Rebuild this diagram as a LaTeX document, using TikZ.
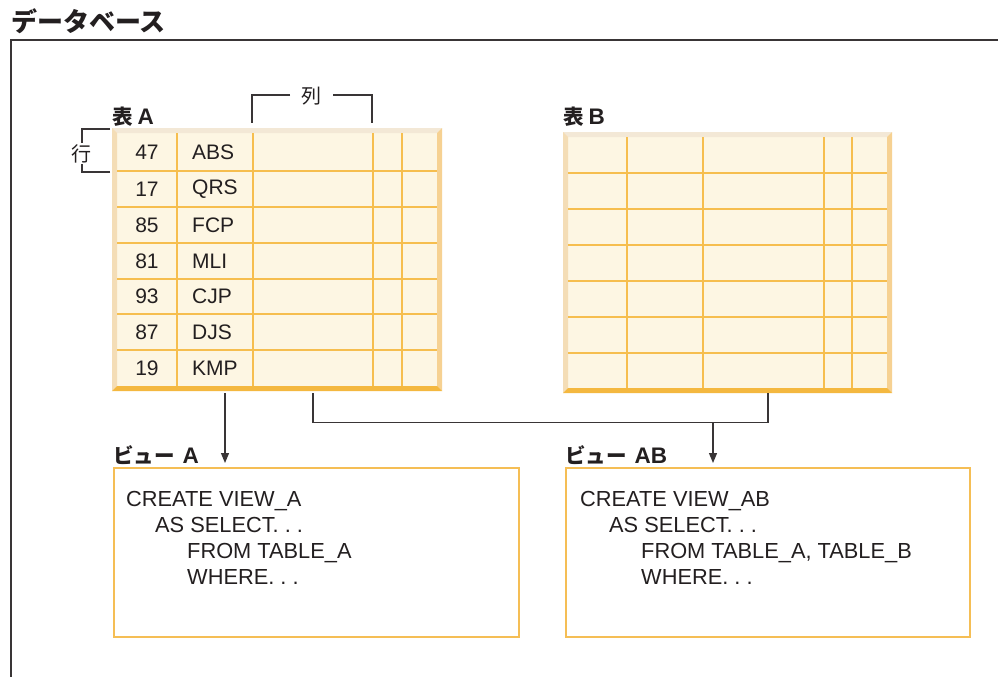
\documentclass[tikz,border=0pt]{standalone}
\usepackage{fontspec}
\setmainfont{Liberation Sans}
\newfontfamily\jp{Noto Sans CJK JP}
\usetikzlibrary{arrows.meta}
\definecolor{ink}{HTML}{231F20}
\definecolor{cream}{HTML}{FDF6E3}
\definecolor{grid}{HTML}{F6BE4F}
\definecolor{bvtop}{HTML}{F3E8D6}
\definecolor{bvleft}{HTML}{F4DDB6}
\definecolor{bvright}{HTML}{F6D192}
\definecolor{bvbot}{HTML}{F4B840}
\definecolor{vborder}{HTML}{F5BE55}
\tikzset{
  conn/.style={draw=ink!90, line width=1.2pt},
  arr/.style={conn, -{Triangle[width=8pt,length=10pt]}},
  cell/.style={font=\fontsize{21}{25}\selectfont, text=ink, inner sep=0pt},
  code/.style={font=\fontsize{21.8}{26}\selectfont, text=ink, inner sep=0pt, anchor=base west},
  lbl/.style={font=\bfseries\fontsize{22.5}{24}\selectfont, text=ink, inner sep=0pt, anchor=base west},
  tbl/.style={inner sep=0pt, draw=none},
  vbox/.style={draw=vborder, line width=1.5pt, inner sep=0pt},
  gl/.style={draw=grid, line width=1.6pt},
  brk/.style={draw=ink!90, line width=1.2pt}
}
% bevelled table: #1 x0, #2 y0, #3 x1, #4 y1
\newcommand{\bevtable}[4]{%
  \fill[cream] (#1,#2) rectangle (#3,#4);
  \fill[bvtop] (#1,#2) -- (#3,#2) -- (#3-5,#2+5) -- (#1+5,#2+5) -- cycle;
  \fill[bvleft] (#1,#2) -- (#1+5,#2+5) -- (#1+5,#4-5) -- (#1,#4) -- cycle;
  \fill[bvright] (#3,#2) -- (#3,#4) -- (#3-5,#4-5) -- (#3-5,#2+5) -- cycle;
  \fill[bvbot] (#1,#4) -- (#3,#4) -- (#3-5,#4-5) -- (#1+5,#4-5) -- cycle;
}
\newcommand{\jpb}[1]{{\jp\bfseries\fontsize{20.5}{24}\selectfont #1}}
\begin{document}
\begin{tikzpicture}[x=1pt,y=-1pt]
\useasboundingbox (0,0) rectangle (998,677);
\fill[white] (0,0) rectangle (998,677);

% title and frame
\node[anchor=base west, inner sep=0pt, text=ink, font=\jp\bfseries\fontsize{26}{30}\selectfont] (title) at (11,32) {データベース};
\draw[line width=1.2pt, draw=ink!90] (998,40) -- (11,40) -- (11,677);

% ---------- Table A ----------
\bevtable{112}{128}{442}{391}
\node[tbl, minimum width=330pt, minimum height=263pt, anchor=north west] (tA) at (112,128) {};
\foreach \x in {177,253,373,402} \draw[gl] (\x,133) -- (\x,386);
\foreach \y in {171,207,243,279,314,350} \draw[gl] (117,\y) -- (437,\y);
\foreach \n/\t/\y in {47/ABS/152.5, 17/QRS/189, 85/FCP/225, 81/MLI/261, 93/CJP/296.5, 87/DJS/332, 19/KMP/368}{
  \node[cell] (n\n) at (147,\y) {\n};
  \node[cell, anchor=west] (t\n) at (192,\y) {\t};
}
\node[lbl] (lA) at (112,124) {\jpb{表}\hspace{5pt}A};

% column bracket
\draw[brk] (290,95) -- (252,95) -- (252,123);
\draw[brk] (333,95) -- (372,95) -- (372,123);
\node[font=\jp\fontsize{20}{24}\selectfont, text=ink, inner sep=0pt] (col) at (311,96) {列};
% row bracket
\draw[brk] (110,129) -- (82,129) -- (82,143);
\draw[brk] (110,172) -- (82,172) -- (82,164);
\node[font=\jp\fontsize{20}{24}\selectfont, text=ink, inner sep=0pt] (row) at (81,154) {行};

% ---------- Table B ----------
\bevtable{563}{132}{892}{393}
\node[tbl, minimum width=329pt, minimum height=261pt, anchor=north west] (tB) at (563,132) {};
\foreach \x in {627,703,824,852} \draw[gl] (\x,137) -- (\x,388);
\foreach \y in {173,209,245,281,317,353} \draw[gl] (568,\y) -- (887,\y);
\node[lbl] (lB) at (563,124) {\jpb{表}\hspace{5pt}B};

% ---------- Views ----------
\node[vbox, minimum width=405pt, minimum height=169pt, anchor=north west] (vA) at (113,467) {};
\node[lbl] (lvA) at (113,463) {\jpb{ビュー}\hspace{8pt}A};
\node[code] (a1) at (126,506) {CREATE VIEW\_A};
\node[code] (a2) at (155,532) {AS SELECT.~.~.};
\node[code] (a3) at (187,558) {FROM TABLE\_A};
\node[code] (a4) at (187,584) {WHERE.~.~.};

\node[vbox, minimum width=404pt, minimum height=169pt, anchor=north west] (vAB) at (565,467) {};
\node[lbl] (lvAB) at (565,463) {\jpb{ビュー}\hspace{8pt}AB};
\node[code] (b1) at (580,506) {CREATE VIEW\_AB};
\node[code] (b2) at (609,532) {AS SELECT.~.~.};
\node[code] (b3) at (641,558) {FROM TABLE\_A, TABLE\_B};
\node[code] (b4) at (641,584) {WHERE.~.~.};

% ---------- connectors ----------
\draw[arr, shorten <=2pt, shorten >=4pt] ([xshift=113pt]tA.south west) -- ([xshift=112pt]vA.north west);
\draw[conn, shorten <=2pt] ([xshift=201pt]tA.south west) -- ++(0,31) coordinate (jl) -| ([xshift=205pt]tB.south west);
\coordinate (jn) at (713,422);
\draw[arr, shorten >=4pt] (jn) -- ([xshift=148pt]vAB.north west);
\end{tikzpicture}
\end{document}
